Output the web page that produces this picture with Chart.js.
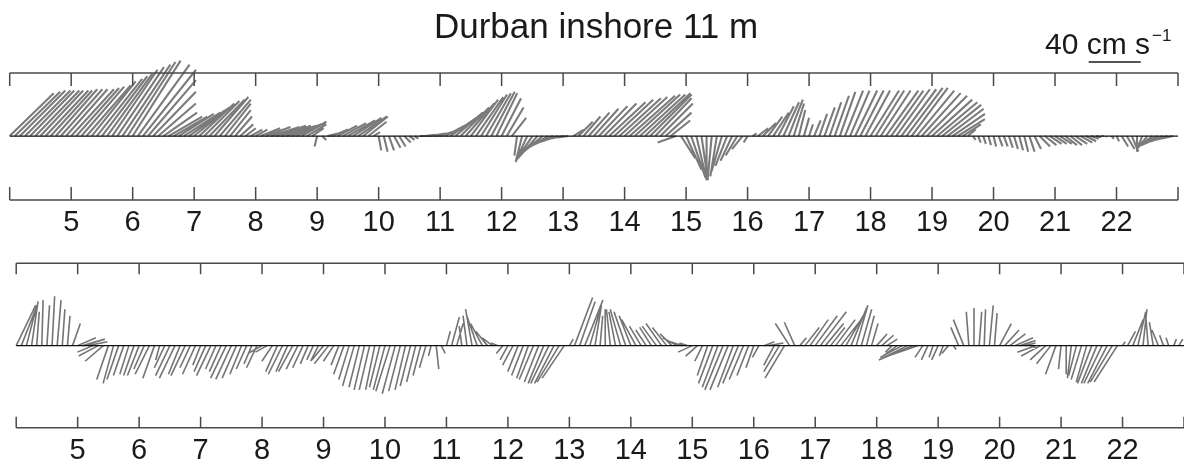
<!DOCTYPE html>
<html>
<head>
<meta charset="utf-8">
<script src="https://cdn.jsdelivr.net/npm/chart.js@4.4.1/dist/chart.umd.min.js"></script>
<style>
  html, body { margin: 0; padding: 0; background: #fff; overflow: hidden; }
  #wrap { position: relative; width: 1184px; height: 468px; overflow: hidden; }
  canvas { position: absolute; left: 0; }
  #topChart { top: 0; }
  #bottomChart { top: 240px; }
</style>
</head>
<body>
<div id="wrap">
  <canvas id="topChart" width="1184" height="240"></canvas>
  <canvas id="bottomChart" width="1190" height="228"></canvas>
</div>
<script>
// record runs from day 4 to day 23, one stick every 2 hours
const startDay = 4;
const endDay = 23;
const stepDays = 1 / 12;
const scaleBarSpeed = 40; // cm/s

// upper panel: east (u) and north (v) velocity, cm/s
const topU = [
  34,35,35,35,34,34,33,33,32,32,32,32,
  33,33,33,34,34,35,35,35,35,36,37,37,
  37,40,41,37,33,29,26,26,26,27,28,28,
  27,27,27,27,26,24,20,16,13,10,8,9,
  9,15,19,22,23,23,23,23,22,19,15,9,
  -2,3,8,12,15,18,21,22,22,19,14,5,
  2,3,4,5,5,5,4,3,5,8,12,15,
  18,19,20,21,22,22,21,21,20,19,18,16,
  15,13,11,-2,-5,-9,-12,-15,-18,-20,-20,-18,
  -15,-8,8,11,13,16,19,22,25,28,30,32,
  33,35,35,35,35,32,28,25,20,15,-14,11,
  12,11,8,5,0,-3,-5,-8,-9,-9,-9,-8,
  -3,3,8,10,11,12,12,12,11,8,5,4,
  3,5,6,8,9,11,12,14,15,17,18,19,
  22,22,23,25,25,26,27,28,28,29,30,31,
  31,31,30,28,25,21,14,6,2,2,2,2,
  2,3,3,3,3,3,3,4,5,8,9,9,
  9,9,9,9,9,9,8,6,4,2,0,2,
  2,5,6,5,0,-4,-8,-12,-15,-19,-23,-27
];
const topV = [
  33,34,35,35,35,35,35,35,35,36,36,36,
  36,37,38,39,42,44,46,48,51,53,55,57,
  58,55,51,43,34,25,18,15,15,17,18,20,
  22,25,27,28,30,28,25,20,15,9,6,5,
  5,6,7,7,8,8,8,9,10,11,9,6,
  -8,-3,2,5,8,10,12,14,15,15,11,3,
  -11,-12,-11,-9,-8,-5,-3,-2,0,1,2,3,
  6,10,14,18,22,25,28,30,32,33,34,33,
  29,22,14,-15,-20,-20,-18,-17,-15,-12,-9,-6,
  -3,-1,5,11,15,18,21,23,25,26,28,29,
  30,31,32,32,33,32,29,25,18,12,-5,-17,
  -26,-32,-34,-34,-34,-32,-31,-27,-23,-19,-15,-10,
  -5,2,6,10,15,18,23,26,28,25,20,14,
  9,12,17,22,26,31,34,35,35,35,35,35,
  35,35,35,35,35,36,36,37,37,35,33,31,
  28,26,24,21,17,13,9,5,-3,-5,-6,-7,
  -8,-8,-8,-9,-10,-11,-12,-12,-10,-8,-7,-6,
  -6,-6,-7,-7,-6,-5,-4,-2,-1,0,-1,-2,
  -4,-8,-10,-12,-12,-11,-10,-9,-8,-8,-7,-6
];

// lower panel: east (u) and north (v) velocity, cm/s
const bottomU = [
  15,11,8,5,2,1,2,2,3,2,2,6,
  14,17,15,-12,-15,-14,-9,-8,-9,-8,-7,-8,
  -9,-8,-11,-9,-3,-8,-11,-12,-9,-11,-8,-10,
  -6,-9,-11,-8,-9,-12,-12,-11,-9,-8,-6,-8,
  -11,-9,-8,-9,-11,-9,-11,-9,-8,-6,-5,-6,
  -9,-11,-8,-6,-8,-8,-9,-8,-8,-8,-7,-8,
  -9,-11,-10,-9,-8,-8,-7,-6,-5,-2,2,3,
  3,6,5,-2,-3,-5,-8,-9,-9,-8,-5,-5,
  -6,-8,-8,-9,-9,-11,-11,-12,-14,-15,-17,-17,
  3,14,12,14,8,5,2,0,-3,-5,-8,-9,
  -9,-11,-9,-8,-9,-11,-12,-11,-9,-11,-9,-6,
  -11,-9,-6,-8,-11,-12,-14,-14,-12,-12,-11,-9,
  -6,-5,8,11,-8,-12,-15,-11,-8,5,11,14,
  17,20,14,11,15,18,15,12,9,8,6,5,
  8,9,8,-5,-11,-17,-22,-26,-23,-6,-5,-3,
  -5,-3,-5,2,-6,-8,-2,0,2,1,3,2,
  9,11,12,14,12,8,5,-14,-15,-12,-11,-8,
  -2,0,-3,-6,-8,-8,-11,-12,-14,-15,-17,-18,
  2,6,8,6,3,-2,-3,-5,-3,-2,2,3
];
const bottomV = [
  31,28,31,34,26,35,31,38,35,28,23,17,
  6,5,3,-5,-8,-12,-26,-29,-26,-23,-22,-23,
  -23,-18,-22,-25,-11,-17,-23,-25,-22,-23,-17,-22,
  -15,-20,-23,-18,-20,-25,-26,-25,-22,-18,-14,-17,
  -6,-5,-12,-20,-22,-20,-20,-18,-17,-14,-11,-12,
  -11,-14,-12,-15,-22,-26,-31,-32,-34,-34,-34,-32,
  -34,-35,-37,-35,-34,-31,-28,-23,-17,-8,-18,-6,
  11,22,17,15,23,28,23,17,11,6,2,-6,
  -11,-15,-20,-23,-25,-26,-28,-29,-29,-29,-28,-25,
  5,37,34,35,28,31,23,28,28,26,28,26,
  23,20,15,12,14,15,17,14,9,6,3,2,
  -5,-8,-12,-23,-29,-32,-34,-34,-32,-29,-26,-23,
  -17,-9,3,2,-15,-20,-25,17,18,6,14,20,
  23,26,17,14,20,23,26,29,31,28,23,17,
  9,8,5,-5,-8,-9,-11,-11,-8,-9,-11,-9,
  -11,-8,-6,-3,14,20,26,29,26,28,31,25,
  17,12,9,6,4,2,-2,-5,-8,-11,-14,-22,
  -18,-22,-25,-23,-26,-28,-29,-29,-29,-29,-28,-28,
  3,11,20,26,28,25,18,12,8,6,5,5
];

const fontFamily = "'Liberation Sans', Arial, Helvetica, sans-serif";

// panel boxes in canvas pixels, plus stick styling
const topPanel = { left: 9.7, right: 1182.4, top: 73, bottom: 200, yMin: -49.2, yMax: 48.5, tickLen: 13,
                   stickColor: 'rgba(35,35,35,0.6)', stickWidth: 2.1 };
const bottomPanel = { left: 16.2, right: 1186.6, top: 23.3, bottom: 187.7, yMin: -63.1, yMax: 63.3, tickLen: 11,
                      stickColor: 'rgba(50,50,50,0.68)', stickWidth: 1.6 };

// one stick per sample: base on the zero line, tip at (t + u, v), equal aspect
function stickPoints(u, v, panel) {
  const pxPerUnit = (panel.bottom - panel.top) / (panel.yMax - panel.yMin);
  const pxPerDay = (panel.right - panel.left) / (endDay - startDay);
  const k = pxPerUnit / pxPerDay;
  const pts = [];
  for (let i = 0; i < u.length; i++) {
    const t = startDay + i * stepDays;
    pts.push({ x: t, y: 0 });
    pts.push({ x: t + u[i] * k, y: v[i] });
    pts.push({ x: t, y: null });
  }
  return pts;
}

// frame: top and bottom lines with inward ticks
const framePlugin = {
  id: 'frame',
  afterDatasetsDraw(chart, args, opts) {
    const { ctx, chartArea: a, scales: { x } } = chart;
    ctx.save();
    ctx.strokeStyle = '#4a4a4a';
    ctx.lineWidth = 1.5;
    ctx.beginPath();
    ctx.moveTo(a.left, a.top); ctx.lineTo(a.right, a.top);
    ctx.moveTo(a.left, a.bottom); ctx.lineTo(a.right, a.bottom);
    x.ticks.forEach(tk => {
      const px = x.getPixelForValue(tk.value);
      ctx.moveTo(px, a.top); ctx.lineTo(px, a.top + opts.tickLen);
      ctx.moveTo(px, a.bottom); ctx.lineTo(px, a.bottom - opts.tickLen);
    });
    ctx.stroke();
    ctx.restore();
  }
};

// velocity scale bar in the upper right corner
const scaleBarPlugin = {
  id: 'scaleBar',
  afterDraw(chart) {
    const { ctx, scales: { y } } = chart;
    const barLen = Math.abs(y.getPixelForValue(0) - y.getPixelForValue(scaleBarSpeed));
    ctx.save();
    ctx.fillStyle = '#1a1a1a';
    ctx.textBaseline = 'alphabetic';
    ctx.font = '30px ' + fontFamily;
    const x0 = 1045, base = 54;
    const lead = scaleBarSpeed + ' ';
    ctx.fillText(lead + 'cm s', x0, base);
    const barX = x0 + ctx.measureText(lead).width + 2;
    const supX = x0 + ctx.measureText(lead + 'cm s').width + 2;
    ctx.font = '17px ' + fontFamily;
    ctx.fillText('\u22121', supX, base - 13);
    ctx.strokeStyle = '#1a1a1a';
    ctx.lineWidth = 1.5;
    ctx.beginPath();
    ctx.moveTo(barX, 62);
    ctx.lineTo(barX + barLen, 62);
    ctx.stroke();
    ctx.restore();
  }
};

function makePanel(canvasId, u, v, panel, plugins, titleText) {
  const canvas = document.getElementById(canvasId);
  const title = titleText
    ? { display: true, text: titleText, color: '#1a1a1a', font: { family: fontFamily, size: 35, weight: 'normal' }, padding: { top: 7, bottom: 24 } }
    : { display: false };
  return new Chart(canvas, {
    type: 'line',
    data: {
      datasets: [
        {
          label: 'zero',
          data: [{ x: startDay, y: 0 }, { x: endDay, y: 0 }],
          borderColor: '#111',
          borderWidth: 1.3,
          pointRadius: 0,
          clip: false
        },
        {
          label: 'current',
          data: stickPoints(u, v, panel),
          borderColor: panel.stickColor,
          borderWidth: panel.stickWidth,
          borderCapStyle: 'butt',
          pointRadius: 0,
          spanGaps: false,
          tension: 0,
          clip: false
        }
      ]
    },
    options: {
      responsive: false,
      animation: false,
      layout: {
        padding: {
          left: panel.left,
          right: canvas.width - panel.right,
          top: titleText ? 0 : panel.top,
          bottom: 0
        }
      },
      scales: {
        x: {
          type: 'linear',
          min: startDay,
          max: endDay,
          afterFit: s => { s.height = canvas.height - panel.bottom; },
          grid: { display: false, drawTicks: false },
          border: { display: false },
          ticks: {
            stepSize: 1,
            autoSkip: false,
            maxRotation: 0,
            padding: 6,
            color: '#1a1a1a',
            font: { family: fontFamily, size: 29 },
            callback: val => (val > startDay && val < endDay) ? String(val) : ''
          }
        },
        y: {
          type: 'linear',
          display: false,
          min: panel.yMin,
          max: panel.yMax
        }
      },
      plugins: {
        legend: { display: false },
        tooltip: { enabled: false },
        title: title,
        frame: { tickLen: panel.tickLen }
      }
    },
    plugins: plugins
  });
}

makePanel('topChart', topU, topV, topPanel, [framePlugin, scaleBarPlugin], 'Durban inshore 11 m');
makePanel('bottomChart', bottomU, bottomV, bottomPanel, [framePlugin], null);
</script>
</body>
</html>
